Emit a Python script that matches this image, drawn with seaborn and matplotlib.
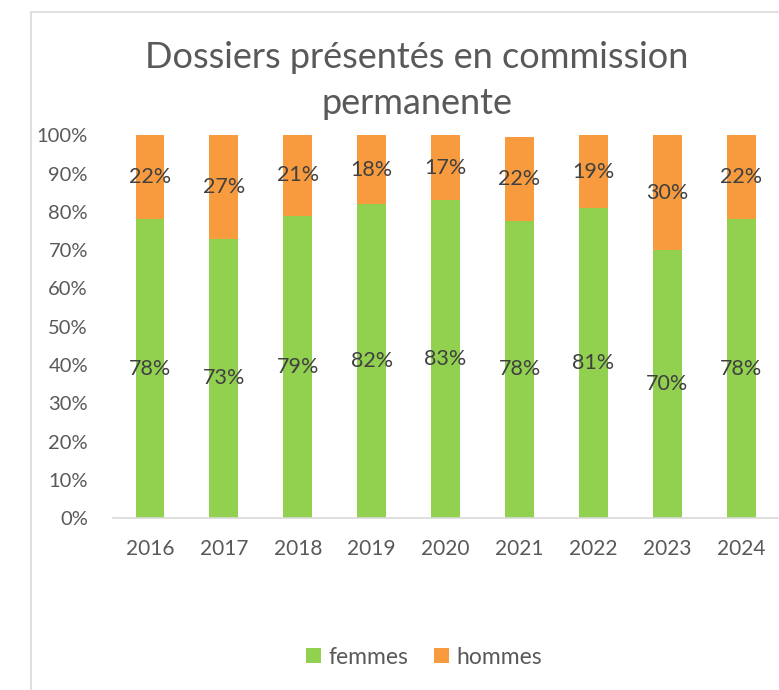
import matplotlib
matplotlib.use("Agg")
import matplotlib.pyplot as plt
from matplotlib.lines import Line2D
from matplotlib.patches import Patch
from matplotlib.ticker import FuncFormatter
import pandas as pd
import seaborn as sns

# Share of files presented to the standing committee, by sex
annees = ["2016", "2017", "2018", "2019", "2020", "2021", "2022", "2023", "2024"]
femmes = [0.78, 0.73, 0.79, 0.82, 0.83, 0.777, 0.81, 0.70, 0.78]
hommes = [0.22, 0.27, 0.21, 0.18, 0.17, 0.218, 0.19, 0.30, 0.22]

VERT = "#92D050"
ORANGE = "#F79B3E"
GRIS_TEXTE = "#595959"
GRIS_LABEL = "#404040"
GRIS_LIGNE = "#D9D9D9"

df = pd.DataFrame({"annee": annees, "femmes": femmes, "hommes": hommes})
df["total"] = df["femmes"] + df["hommes"]

sns.set_theme(style="white")
plt.rcParams["font.family"] = ["Lato", "DejaVu Sans"]

fig = plt.figure(figsize=(7.79, 6.90), dpi=100)
ax = fig.add_axes([0.145, 0.249, 0.854, 0.555])

# Stacked bars: full height in orange, women's share drawn over it in green
sns.barplot(data=df, x="annee", y="total", color=ORANGE, width=0.39,
            saturation=1, ax=ax, edgecolor="none")
sns.barplot(data=df, x="annee", y="femmes", color=VERT, width=0.39,
            saturation=1, ax=ax, edgecolor="none")

for i, (f, h) in enumerate(zip(femmes, hommes)):
    ax.text(i, f / 2, f"{f:.0%}", ha="center", va="center",
            fontsize=15.5, color=GRIS_LABEL)
    ax.text(i, f + h / 2, f"{h:.0%}", ha="center", va="center",
            fontsize=15.5, color=GRIS_LABEL)

ax.set_ylim(0, 1)
ax.set_yticks([i / 10 for i in range(11)])
ax.yaxis.set_major_formatter(FuncFormatter(lambda v, _: f"{v:.0%}"))
ax.set_xlabel("")
ax.set_ylabel("")
ax.tick_params(axis="both", length=0, colors=GRIS_TEXTE)
ax.tick_params(axis="y", pad=18, labelsize=14.5)
ax.tick_params(axis="x", pad=15, labelsize=15)
for side in ["top", "right", "left"]:
    ax.spines[side].set_visible(False)
ax.spines["bottom"].set_color(GRIS_LIGNE)
ax.spines["bottom"].set_linewidth(1.2)
ax.grid(False)

fig.text(0.535, 1 - 57 / 690, "Dossiers présentés en commission",
         ha="center", va="center", fontsize=26, color=GRIS_TEXTE)
fig.text(0.535, 1 - 104 / 690, "permanente",
         ha="center", va="center", fontsize=26, color=GRIS_TEXTE)

handles = [Patch(facecolor=VERT, edgecolor="none", label="femmes"),
           Patch(facecolor=ORANGE, edgecolor="none", label="hommes")]
fig.legend(handles=handles, loc="center", bbox_to_anchor=(424 / 779, 1 - 657 / 690),
           ncol=2, frameon=False, fontsize=16.5, handlelength=0.65, handleheight=0.65,
           handletextpad=0.35, columnspacing=1.1, labelcolor=GRIS_TEXTE)

# Chart area frame
fig.add_artist(Line2D([31 / 779, 31 / 779], [0, 1 - 12 / 690],
                      transform=fig.transFigure, color=GRIS_LIGNE, lw=1.2))
fig.add_artist(Line2D([31 / 779, 1], [1 - 12 / 690, 1 - 12 / 690],
                      transform=fig.transFigure, color=GRIS_LIGNE, lw=1.2))

fig.savefig("out.png", dpi=100, facecolor="white")
